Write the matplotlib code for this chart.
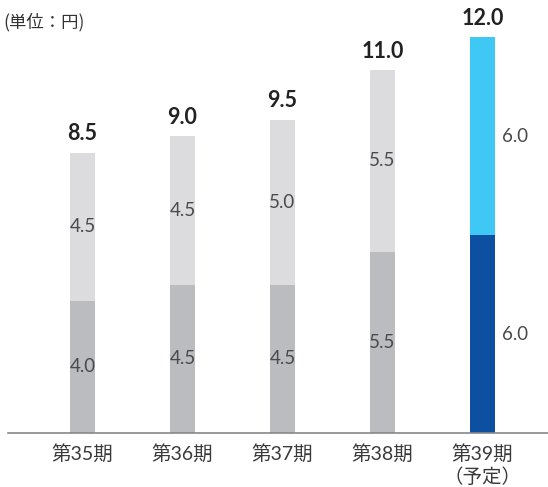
import matplotlib
matplotlib.use("Agg")
import matplotlib.pyplot as plt

plt.rcParams['font.family'] = ['Noto Sans CJK JP', 'DejaVu Sans']

categories = ["第35期", "第36期", "第37期", "第38期", "第39期\n（予定）"]
lower = [4.0, 4.5, 4.5, 5.5, 6.0]
upper = [4.5, 4.5, 5.0, 5.5, 6.0]
totals = [8.5, 9.0, 9.5, 11.0, 12.0]
lower_colors = ["#bbbcc0"] * 4 + ["#0d4fa0"]
upper_colors = ["#dcdcde"] * 4 + ["#40c8f4"]

NUM_FONT = ['Lato', 'Noto Sans CJK JP', 'DejaVu Sans']

W, H = 548, 487
fig = plt.figure(figsize=(W / 100, H / 100), dpi=100)
ax_left, ax_right = 8, 548
ax_bottom, ax_top = 487 - 433, 487 - 4
ax = fig.add_axes([ax_left / W, ax_bottom / H, (ax_right - ax_left) / W, (ax_top - ax_bottom) / H])

x = list(range(len(categories)))
bw = 0.25
ax.bar(x, lower, width=bw, color=lower_colors, zorder=2)
ax.bar(x, upper, width=bw, bottom=lower, color=upper_colors, zorder=2)

ax.set_xlim(-0.745, 4.655)
ax.set_ylim(0, 13)

for i in x:
    dx = 0.33 if i == 4 else 0
    ax.text(i + dx, lower[i] / 2, f"{lower[i]:.1f}", ha="center", va="center",
            fontsize=13.5, color="#4a4a4a", family=NUM_FONT, fontweight="normal")
    ax.text(i + dx, lower[i] + upper[i] / 2, f"{upper[i]:.1f}", ha="center", va="center",
            fontsize=13.5, color="#4a4a4a", family=NUM_FONT, fontweight="normal")
    ax.annotate(f"{totals[i]:.1f}", (i, totals[i]), xytext=(0, 6), textcoords="offset points",
                ha="center", va="bottom", fontsize=15.5, fontweight="bold", color="#222222",
                family=NUM_FONT)

ax.set_xticks(x)
ax.set_xticklabels(categories, fontsize=14, color="#3a3a3a", linespacing=1.25,
                   family=NUM_FONT, fontweight="normal")
ax.tick_params(axis="x", length=0, pad=8)
ax.set_yticks([])
for s in ["top", "right", "left"]:
    ax.spines[s].set_visible(False)
ax.spines["bottom"].set_color("#888888")
ax.spines["bottom"].set_linewidth(1.2)

fig.text(3 / W, 1 - 22 / H, "(単位：円)", ha="left", va="center", fontsize=12.5, color="#333333")

fig.savefig("out.png", dpi=100)
